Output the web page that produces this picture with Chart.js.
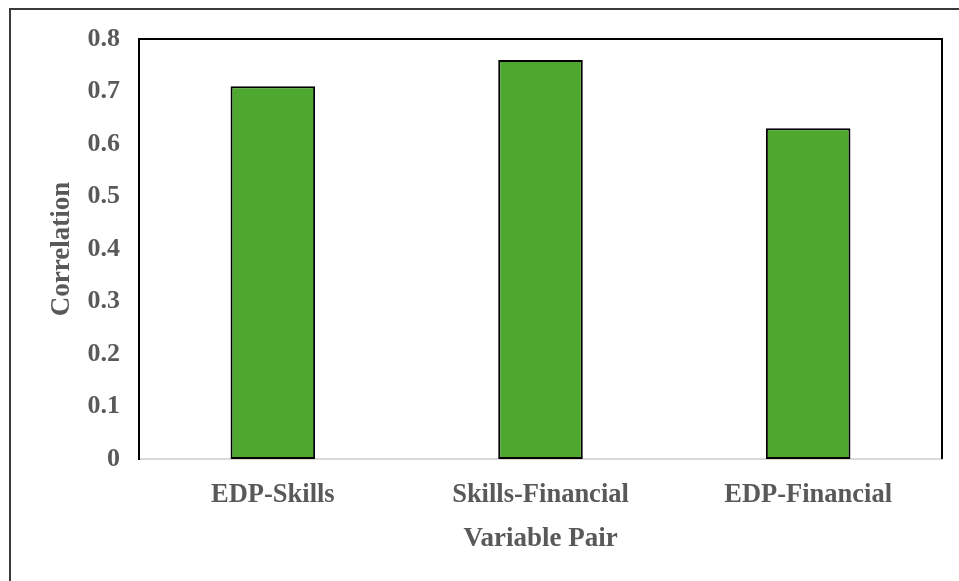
<!DOCTYPE html>
<html>
<head>
<meta charset="utf-8">
<script src="https://cdn.jsdelivr.net/npm/chart.js@4.4.1/dist/chart.umd.min.js"></script>
<style>
  html, body { margin: 0; padding: 0; background: #fff; }
  #wrap { width: 959px; height: 581px; position: relative; }
</style>
</head>
<body>
<div id="wrap"><canvas id="c" width="959" height="581"></canvas></div>
<script>
// Variable pairs and their correlation coefficients
const categories = ['EDP-Skills', 'Skills-Financial', 'EDP-Financial'];
const correlations = [0.71, 0.76, 0.63];
const yTicks = [0, 0.1, 0.2, 0.3, 0.4, 0.5, 0.6, 0.7, 0.8];

const textGray = '#595959';
const serif = "'Liberation Serif', 'Times New Roman', serif";

// Frame lines: outer figure frame plus the top/right edges of the plot box
const framePlugin = {
  id: 'frames',
  beforeDraw(chart) {
    const ctx = chart.ctx;
    ctx.save();
    ctx.strokeStyle = '#3a3a3a';
    ctx.lineWidth = 2;
    ctx.beginPath();
    ctx.moveTo(10, 581);
    ctx.lineTo(10, 9);
    ctx.lineTo(959, 9);
    ctx.stroke();
    ctx.restore();
  },
  afterDraw(chart) {
    const { ctx, chartArea: a } = chart;
    ctx.save();
    ctx.strokeStyle = '#000';
    ctx.lineWidth = 2;
    ctx.beginPath();
    ctx.moveTo(a.left, a.top);
    ctx.lineTo(a.right, a.top);
    ctx.lineTo(a.right, a.bottom);
    ctx.stroke();
    ctx.restore();
  }
};

new Chart(document.getElementById('c'), {
  type: 'bar',
  data: {
    labels: categories,
    datasets: [{
      data: correlations,
      backgroundColor: '#4EA72E',
      borderColor: '#000',
      borderWidth: 2,
      borderSkipped: false,
      categoryPercentage: 1,
      barPercentage: 0.316
    }]
  },
  options: {
    responsive: false,
    animation: false,
    layout: { padding: { top: 39, right: 17, bottom: 0, left: 0 } },
    plugins: { legend: { display: false }, tooltip: { enabled: false } },
    scales: {
      x: {
        grid: { display: false, drawTicks: false },
        border: { display: true, color: '#d9d9d9', width: 2 },
        ticks: {
          padding: 20,
          color: textGray,
          font: { family: serif, size: 26.5, weight: 'bold' }
        },
        title: {
          display: true,
          text: 'Variable Pair',
          color: textGray,
          font: { family: serif, size: 27, weight: 'bold' },
          padding: { top: 0, bottom: 26 }
        },
        afterFit(scale) { scale.height = 122; }
      },
      y: {
        min: 0,
        max: 0.8,
        afterBuildTicks(scale) { scale.ticks = yTicks.map(v => ({ value: v })); },
        grid: { display: false, drawTicks: false },
        border: { display: true, color: '#000', width: 2 },
        ticks: {
          padding: 19,
          color: textGray,
          font: { family: serif, size: 26, weight: 'bold' },
          callback: v => String(v)
        },
        title: {
          display: true,
          text: 'Correlation',
          color: textGray,
          font: { family: serif, size: 27, weight: 'bold' },
          padding: { top: 46, bottom: 0 }
        },
        afterFit(scale) { scale.width = 139; }
      }
    }
  },
  plugins: [framePlugin]
});
</script>
</body>
</html>
